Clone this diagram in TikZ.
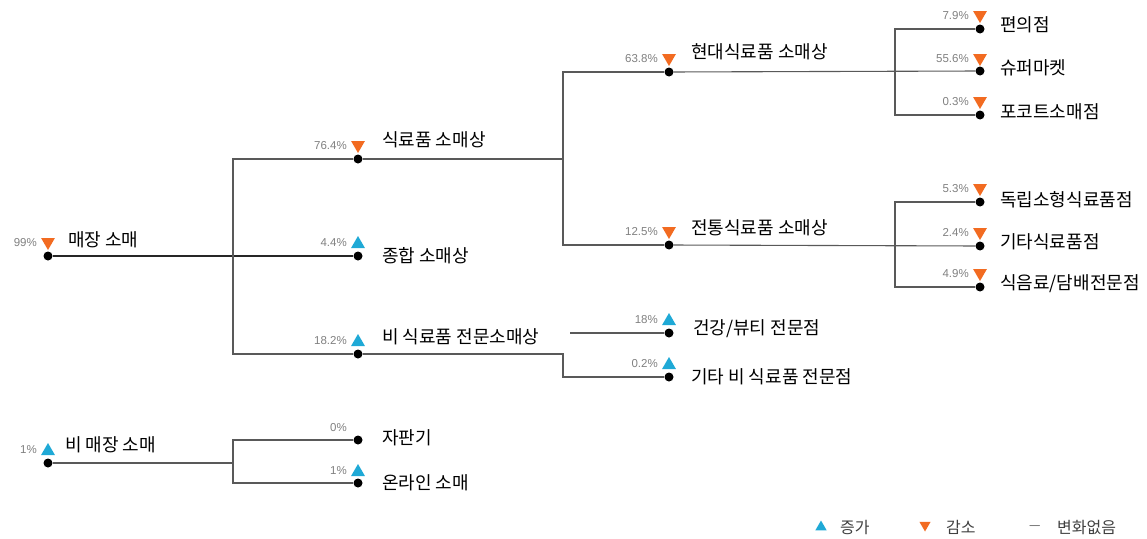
\documentclass[tikz,border=0pt]{standalone}
\usepackage{fontspec}
\setmainfont{Noto Sans CJK KR}
\newfontfamily\pctfont{Liberation Sans}
\usetikzlibrary{shapes.geometric}
\definecolor{fallorange}{HTML}{F26B21}
\definecolor{risecyan}{HTML}{1FA9D6}
\definecolor{pctgray}{HTML}{808080}
\tikzset{
  dot/.style={circle, fill=black, inner sep=0pt, minimum size=9pt},
  lbl/.style={anchor=west, inner sep=0pt, font=\fontsize{18}{18}\selectfont},
  pct/.style={anchor=east, inner sep=0pt, text=pctgray, font=\pctfont\fontsize{11.5}{12}\selectfont},
  rise/.style={regular polygon, regular polygon sides=3, fill=risecyan, inner sep=0pt, minimum size=16pt},
  fall/.style={rise, fill=fallorange, shape border rotate=180},
  branch/.style={draw=black!65, line width=1.1pt},
  trunk/.style={draw=black!85, line width=1.8pt},
  keytext/.style={anchor=west, inner sep=0pt, text=black!75, font=\fontsize{16}{16}\selectfont},
}
\begin{document}
\begin{tikzpicture}[x=1pt, y=-1pt]
                \useasboundingbox (0,0) rectangle (1147,538);
                % store retail
                \node[dot] (store) at (48,256) {};
                \node[dot] (food) at (358,159) {};
                \node[dot] (general) at (358,256) {};
                \node[dot] (nonfood) at (358,354) {};
                \node[dot] (modern) at (669,72) {};
                \node[dot] (trad) at (669,245) {};
                \node[dot] (conv) at (980,29) {};
                \node[dot] (super) at (980,71) {};
                \node[dot] (fcourt) at (980,115) {};
                \node[dot] (indep) at (980,202) {};
                \node[dot] (othfood) at (980,246) {};
                \node[dot] (bev) at (980,287) {};
                \node[dot] (health) at (669,333) {};
                \node[dot] (othnonfood) at (669,377) {};
                % non-store retail
                \node[dot] (nonstore) at (48,463) {};
                \node[dot] (vend) at (358,440) {};
                \node[dot] (online) at (358,483) {};
                \coordinate (br-store) at (233,256);
                \coordinate (br-food) at (563,159);
                \coordinate (br-modern) at (895,71);
                \coordinate (br-trad) at (895,246);
                \coordinate (br-nonfood) at (563,365);
                \coordinate (health-start) at (570,333);
                \coordinate (br-nonstore) at (233,463);
                \draw[trunk] (store) -- (general);
                \draw[branch] (food) -| (br-store) |- (nonfood);
                \draw[branch] (food) -- (br-food);
                \draw[branch] (modern) -| (br-food) |- (trad);
                \draw[branch] (modern) -- (super);
                \draw[branch] (conv) -| (br-modern) |- (fcourt);
                \draw[branch] (trad) -- (othfood);
                \draw[branch] (indep) -| (br-trad) |- (bev);
                \draw[branch] (nonfood) -| (br-nonfood) |- (othnonfood);
                \draw[branch] (health-start) -- (health);
                \draw[branch] (nonstore) -- (br-nonstore);
                \draw[branch] (vend) -| (br-nonstore) |- (online);
                % changes
                \node[fall] (store-tri) at (48,242) {};
                \node[pct] (store-pct) at (37,243) {99\%};
                \node[fall] (food-tri) at (358,145) {};
                \node[pct] (food-pct) at (347,146) {76.4\%};
                \node[rise] (general-tri) at (358,244) {};
                \node[pct] (general-pct) at (347,243) {4.4\%};
                \node[rise] (nonfood-tri) at (358,342) {};
                \node[pct] (nonfood-pct) at (347,341) {18.2\%};
                \node[fall] (modern-tri) at (669,58) {};
                \node[pct] (modern-pct) at (658,59) {63.8\%};
                \node[fall] (trad-tri) at (669,231) {};
                \node[pct] (trad-pct) at (658,232) {12.5\%};
                \node[fall] (conv-tri) at (980,15) {};
                \node[pct] (conv-pct) at (969,16) {7.9\%};
                \node[fall] (super-tri) at (980,58) {};
                \node[pct] (super-pct) at (969,59) {55.6\%};
                \node[fall] (fcourt-tri) at (980,101) {};
                \node[pct] (fcourt-pct) at (969,102) {0.3\%};
                \node[fall] (indep-tri) at (980,188) {};
                \node[pct] (indep-pct) at (969,189) {5.3\%};
                \node[fall] (othfood-tri) at (980,232) {};
                \node[pct] (othfood-pct) at (969,233) {2.4\%};
                \node[fall] (bev-tri) at (980,273) {};
                \node[pct] (bev-pct) at (969,274) {4.9\%};
                \node[rise] (health-tri) at (669,321) {};
                \node[pct] (health-pct) at (658,320) {18\%};
                \node[rise] (othnonfood-tri) at (669,365) {};
                \node[pct] (othnonfood-pct) at (658,364) {0.2\%};
                \node[rise] (nonstore-tri) at (48,451) {};
                \node[pct] (nonstore-pct) at (37,450) {1\%};
                \node[pct] (vend-pct) at (347,428) {0\%};
                \node[rise] (online-tri) at (358,472) {};
                \node[pct] (online-pct) at (347,471) {1\%};
                % names
                \node[lbl] (store-name) at (68,240) {매장 소매};
                \node[lbl] (food-name) at (382,140) {식료품 소매상};
                \node[lbl] (general-name) at (382,256) {종합 소매상};
                \node[lbl] (nonfood-name) at (382,337) {비 식료품 전문소매상};
                \node[lbl] (modern-name) at (691,52) {현대식료품 소매상};
                \node[lbl] (trad-name) at (691,228) {전통식료품 소매상};
                \node[lbl] (conv-name) at (1000,25) {편의점};
                \node[lbl] (super-name) at (1000,68) {슈퍼마켓};
                \node[lbl] (fcourt-name) at (1000,112) {포코트소매점};
                \node[lbl] (indep-name) at (1000,200) {독립소형식료품점};
                \node[lbl] (othfood-name) at (1000,242) {기타식료품점};
                \node[lbl] (bev-name) at (1000,284) {식음료/담배전문점};
                \node[lbl] (health-name) at (693,329) {건강/뷰티 전문점};
                \node[lbl] (othnonfood-name) at (691,377) {기타 비 식료품 전문점};
                \node[lbl] (nonstore-name) at (65,445) {비 매장 소매};
                \node[lbl] (vend-name) at (382,438) {자판기};
                \node[lbl] (online-name) at (382,483) {온라인 소매};
                % legend
                \node[rise, minimum size=13pt] (key-rise) at (821,527) {};
                \node[keytext] (key-rise-text) at (840,527) {증가};
                \node[fall, minimum size=13pt] (key-fall) at (925,525) {};
                \node[keytext] (key-fall-text) at (946,527) {감소};
                \node[keytext] (key-same) at (1028,526) {$-$};
                \node[keytext] (key-same-text) at (1057,527) {변화없음};
\end{tikzpicture}
\end{document}
